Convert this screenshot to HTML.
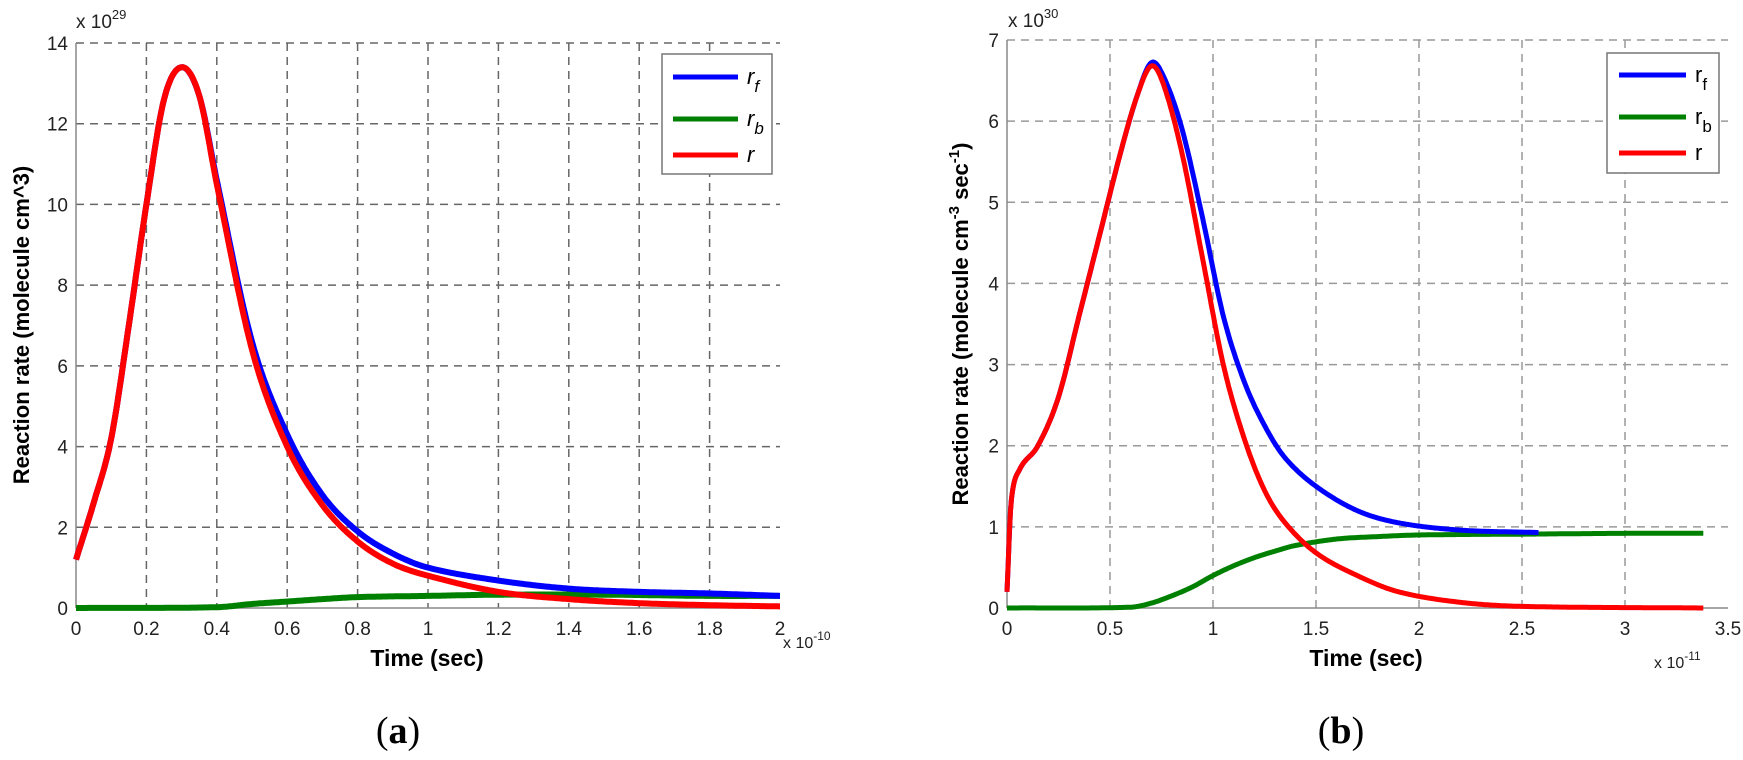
<!DOCTYPE html>
<html><head><meta charset="utf-8"><style>
body{margin:0;background:#fff}
svg text{font-family:"Liberation Sans",Arial,sans-serif}
</style></head><body>
<svg id="s" width="1743" height="755" xmlns="http://www.w3.org/2000/svg">
<g id="g"></g>
<!-- left annotations -->
<text x="76" y="28" font-size="19" fill="#222">x 10<tspan dy="-9" font-size="13">29</tspan></text>
<text x="427" y="666" font-size="23" font-weight="bold" text-anchor="middle">Time  (sec)</text>
<text x="783" y="648" font-size="16" fill="#222">x 10<tspan dy="-8" font-size="12">-10</tspan></text>
<text transform="translate(29,325) rotate(-90)" font-size="22" font-weight="bold" text-anchor="middle">Reaction rate (molecule cm^3)</text>
<text x="398" y="743" font-size="38" font-family="Liberation Serif" text-anchor="middle" style="font-family:'Liberation Serif',serif">(<tspan font-weight="bold">a</tspan>)</text>
<!-- right annotations -->
<text x="1008" y="27" font-size="19" fill="#222">x 10<tspan dy="-9" font-size="13">30</tspan></text>
<text x="1366" y="666" font-size="23" font-weight="bold" text-anchor="middle">Time  (sec)</text>
<text x="1654" y="668" font-size="16" fill="#222">x 10<tspan dy="-8" font-size="12">-11</tspan></text>
<text transform="translate(968,324) rotate(-90)" font-size="22" font-weight="bold" text-anchor="middle">Reaction rate  (molecule cm<tspan dy="-9" font-size="15">-3</tspan><tspan dy="9"> sec</tspan><tspan dy="-9" font-size="15">-1</tspan><tspan dy="9">)</tspan></text>
<text x="1341" y="743" font-size="38" text-anchor="middle" style="font-family:'Liberation Serif',serif">(<tspan font-weight="bold">b</tspan>)</text>
</svg>
<script>
const NS="http://www.w3.org/2000/svg",g=document.getElementById('g');
function el(t,a,txt){const e=document.createElementNS(NS,t);for(const k in a)e.setAttribute(k,a[k]);if(txt!==undefined)e.textContent=txt;g.appendChild(e);return e;}
function interp(pts,x){for(let i=0;i<pts.length-1;i++){if(x<=pts[i+1][0]){const [x0,y0]=pts[i],[x1,y1]=pts[i+1];
 const p0=pts[Math.max(i-1,0)],p3=pts[Math.min(i+2,pts.length-1)];const t=(x-x0)/(x1-x0);
 const m1=(y1-p0[1])/(x1-p0[0])*(x1-x0),m2=(p3[1]-y0)/(p3[0]-x0)*(x1-x0);
 const t2=t*t,t3=t2*t;return (2*t3-3*t2+1)*y0+(t3-2*t2+t)*m1+(-2*t3+3*t2)*y1+(t3-t2)*m2;}}return pts[pts.length-1][1];}
function plot(P){
 const X=v=>P.x0+(v-P.xmin)/(P.xmax-P.xmin)*(P.x1-P.x0), Y=v=>P.y0-(v/P.ymax)*(P.y0-P.y1);
 for(const v of P.xt){const x=X(v);
  if(v>P.xmin&&v<P.xmax)el('line',{x1:x,y1:P.y1,x2:x,y2:P.y0,stroke:P.gc,'stroke-width':1.5,'stroke-dasharray':'8,6'});
  el('text',{x:x,y:P.y0+27,'font-size':19,'text-anchor':'middle',fill:'#222'},P.xl(v));}
 for(const v of P.yt){const y=Y(v);
  if(v>0)el('line',{x1:P.x0,y1:y,x2:P.x1,y2:y,stroke:P.gc,'stroke-width':1.5,'stroke-dasharray':'8,6'});
  el('text',{x:P.x0-8,y:y+7,'font-size':19,'text-anchor':'end',fill:'#222'},String(v));}
 el('line',{x1:P.x0,y1:P.y0,x2:P.x1,y2:P.y0,stroke:'#888','stroke-width':1.5});
 el('line',{x1:P.x0,y1:P.y0,x2:P.x0,y2:P.y1,stroke:'#888','stroke-width':1.5});
 for(const s of P.series){let d='';const [a,b]=[s.pts[0][0],s.pts[s.pts.length-1][0]];
  for(let i=0;i<=600;i++){const t=a+(b-a)*i/600;d+=(i?'L':'M')+X(t).toFixed(1)+','+Y(Math.max(0,interp(s.pts,t))).toFixed(1);}
  el('path',{d:d,fill:'none',stroke:s.c,'stroke-width':P.lw,'stroke-linejoin':'round'});}
 const L=P.leg;el('rect',{x:L.x,y:L.y,width:L.w,height:L.h,fill:'#fff',stroke:'#777','stroke-width':1.5});
 L.rows.forEach((r,i)=>{el('line',{x1:L.lx0,x2:L.lx1,y1:r.y,y2:r.y,stroke:r.c,'stroke-width':5});
  const t=el('text',{x:L.tx,y:r.y+7,'font-size':22,'font-style':P.ital?'italic':'normal'},'r');
  if(r.s){const ts=document.createElementNS(NS,'tspan');ts.setAttribute('dy',8);ts.setAttribute('font-size',17);ts.textContent=r.s;t.appendChild(ts);}});
}
const G='#0000ff',GR='#008000',R='#ff0000';
plot({x0:76,x1:780,y0:608,y1:43,xmin:0,xmax:2,ymax:14,gc:'#666',lw:6,ital:true,
 xt:[0,0.2,0.4,0.6,0.8,1,1.2,1.4,1.6,1.8,2],xl:v=>String(+v.toFixed(1)),yt:[0,2,4,6,8,10,12,14],
 series:[
 {c:GR,pts:[[0,0],[0.4,0.02],[0.5,0.1],[0.6,0.16],[0.7,0.22],[0.8,0.27],[1,0.3],[1.2,0.33],[1.5,0.33],[1.8,0.3],[2,0.3]]},
 {c:G,pts:[[0,1.2],[0.05,2.6],[0.1,4.2],[0.15,7],[0.2,10],[0.25,12.6],[0.3,13.4],[0.35,12.7],[0.4,10.6],[0.5,6.6],[0.6,4.3],[0.7,2.8],[0.8,1.9],[0.9,1.35],[1,1.0],[1.2,0.68],[1.4,0.48],[1.6,0.4],[1.8,0.36],[2,0.3]]},
 {c:R,pts:[[0,1.2],[0.05,2.6],[0.1,4.2],[0.15,7],[0.2,10],[0.25,12.6],[0.3,13.4],[0.35,12.7],[0.4,10.5],[0.5,6.4],[0.6,4.0],[0.7,2.55],[0.8,1.65],[0.9,1.1],[1,0.8],[1.2,0.4],[1.4,0.22],[1.6,0.12],[1.8,0.07],[2,0.04]]}],
 leg:{x:662,y:54,w:110,h:120,lx0:673,lx1:738,tx:747,rows:[{y:77,c:G,s:'f'},{y:119,c:GR,s:'b'},{y:155,c:R,s:''}]}});
plot({x0:1007,x1:1728,y0:608,y1:40,xmin:0,xmax:3.5,ymax:7,gc:'#999',lw:5,ital:false,
 xt:[0,0.5,1,1.5,2,2.5,3,3.5],xl:v=>String(v),yt:[0,1,2,3,4,5,6,7],
 series:[
 {c:GR,pts:[[0,0],[0.6,0.01],[0.7,0.06],[0.8,0.15],[0.9,0.26],[1,0.4],[1.1,0.52],[1.2,0.62],[1.3,0.7],[1.4,0.77],[1.6,0.85],[1.8,0.88],[2,0.9],[2.5,0.91],[3,0.92],[3.38,0.92]]},
 {c:G,pts:[[0,0.2],[0.02,1.3],[0.06,1.7],[0.15,2.0],[0.25,2.6],[0.35,3.6],[0.45,4.6],[0.55,5.6],[0.63,6.3],[0.7,6.72],[0.76,6.55],[0.85,5.9],[0.95,4.8],[1.05,3.6],[1.15,2.8],[1.25,2.25],[1.35,1.85],[1.5,1.5],[1.7,1.2],[1.9,1.05],[2.2,0.96],[2.58,0.93]]},
 {c:R,pts:[[0,0.2],[0.02,1.3],[0.06,1.7],[0.15,2.0],[0.25,2.6],[0.35,3.6],[0.45,4.6],[0.55,5.6],[0.63,6.3],[0.7,6.68],[0.76,6.45],[0.85,5.6],[0.95,4.3],[1.05,3.0],[1.15,2.1],[1.25,1.45],[1.35,1.05],[1.5,0.68],[1.7,0.4],[1.9,0.2],[2.2,0.07],[2.5,0.02],[3.38,0]]}],
 leg:{x:1607,y:53,w:112,h:120,lx0:1619,lx1:1686,tx:1695,rows:[{y:75,c:G,s:'f'},{y:117,c:GR,s:'b'},{y:153,c:R,s:''}]}});
</script>
</body></html>
